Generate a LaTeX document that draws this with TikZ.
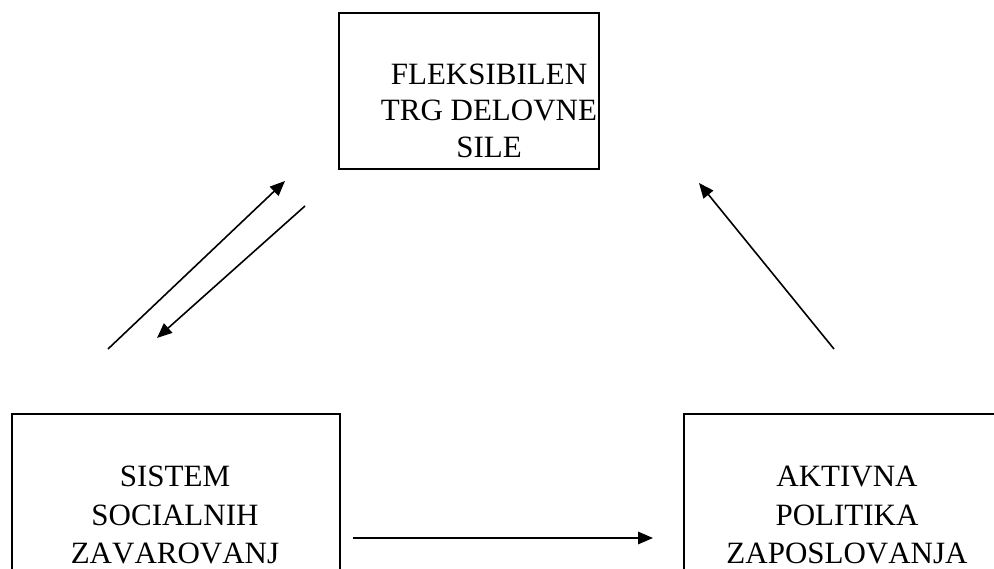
\documentclass[tikz,border=0pt]{standalone}
\usepackage{fontspec}
\setmainfont{Liberation Serif}[Kerning=Off]
\usetikzlibrary{arrows.meta}
\begin{document}
\begin{tikzpicture}[x=1pt,y=-1pt,
  box/.style={draw, line width=1.6pt, inner sep=0pt},
  lbl/.style={align=center, inner sep=0pt},
  topfont/.style={font=\fontsize{31}{36.5}\selectfont},
  botfont/.style={font=\fontsize{31}{38.5}\selectfont},
  arr/.style={line width=1.6pt, -{Triangle[length=15pt,width=12.5pt]}}]
\useasboundingbox (0,0) rectangle (994,569);
% boxes
\node[box, minimum width=260pt, minimum height=156pt] (topbox) at (469,90.8) {};
\node[box, minimum width=328pt, minimum height=312pt] (leftbox) at (176,570) {};
\node[box, minimum width=326pt, minimum height=312pt] (rightbox) at (847,570) {};
% texts
\node[lbl, topfont] (toptext) at (489,110.5) {FLEKSIBILEN\\TRG DELOVNE\\SILE};
\node[lbl, botfont] (lefttext) at (175,515.3) {SISTEM\\SOCIALNIH\\ZAVAROVANJ};
\node[lbl, botfont] (righttext) at (847,515.3) {AKTIVNA\\POLITIKA\\ZAPOSLOVANJA};
% arrow end points
\coordinate (a1s) at (108,349);
\coordinate (a1e) at (285,181);
\coordinate (a2s) at (305,206);
\coordinate (a2e) at (157,338);
\coordinate (a3s) at (834,349);
\coordinate (a3e) at (699,183);
\coordinate (a4s) at (353,538);
\coordinate (a4e) at (653,538);
\draw[arr] (a1s) -- (a1e);
\draw[arr] (a2s) -- (a2e);
\draw[arr] (a3s) -- (a3e);
\draw[arr] (a4s) -- (a4e);
\end{tikzpicture}
\end{document}
